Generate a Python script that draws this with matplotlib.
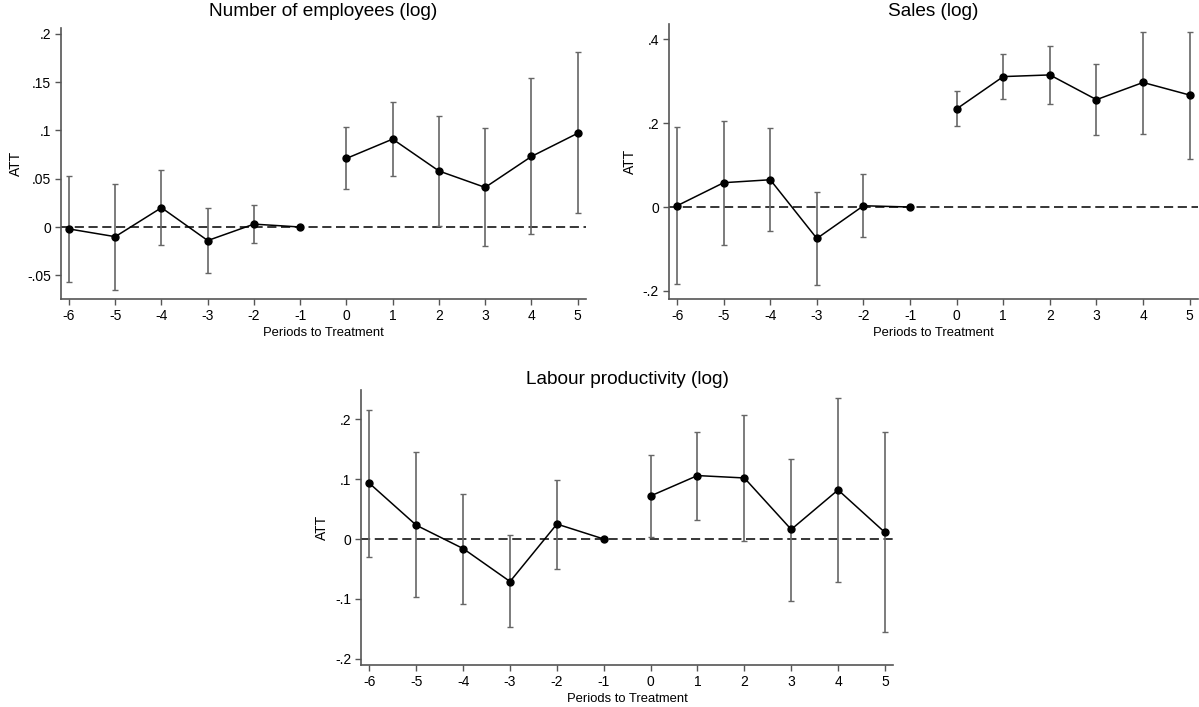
import numpy as np
import matplotlib.pyplot as plt

plt.rcParams['font.family'] = ['Liberation Sans', 'DejaVu Sans']

periods = [-6, -5, -4, -3, -2, -1, 0, 1, 2, 3, 4, 5]

# Number of employees (log)
emp_att = [-0.002, -0.010, 0.020, -0.014, 0.003, 0.0, 0.071, 0.091, 0.058, 0.041, 0.073, 0.097]
emp_lo = [-0.057, -0.065, -0.019, -0.048, -0.017, np.nan, 0.039, 0.053, 0.001, -0.020, -0.007, 0.014]
emp_hi = [0.053, 0.045, 0.059, 0.020, 0.023, np.nan, 0.104, 0.129, 0.115, 0.103, 0.154, 0.181]

# Sales (log)
sales_att = [0.003, 0.058, 0.065, -0.075, 0.003, 0.0, 0.234, 0.311, 0.315, 0.256, 0.297, 0.267]
sales_lo = [-0.183, -0.091, -0.057, -0.186, -0.071, np.nan, 0.193, 0.258, 0.245, 0.172, 0.175, 0.115]
sales_hi = [0.190, 0.204, 0.188, 0.035, 0.079, np.nan, 0.276, 0.365, 0.385, 0.340, 0.418, 0.418]

# Labour productivity (log)
lp_att = [0.093, 0.023, -0.016, -0.071, 0.025, 0.0, 0.072, 0.106, 0.102, 0.016, 0.082, 0.011]
lp_lo = [-0.030, -0.097, -0.108, -0.147, -0.050, np.nan, 0.004, 0.032, -0.004, -0.103, -0.072, -0.156]
lp_hi = [0.216, 0.145, 0.076, 0.006, 0.099, np.nan, 0.140, 0.179, 0.208, 0.134, 0.236, 0.178]

panels = [
    ("Number of employees (log)", emp_att, emp_lo, emp_hi,
     [-0.05, 0, 0.05, 0.1, 0.15, 0.2], ["-.05", "0", ".05", ".1", ".15", ".2"],
     (-0.0745, 0.206), [0.0506, 0.5771, 0.4381, 0.3833], 12, 16),
    ("Sales (log)", sales_att, sales_lo, sales_hi,
     [-0.2, 0, 0.2, 0.4], ["-.2", "0", ".2", ".4"],
     (-0.220, 0.4365), [0.5577, 0.5767, 0.4415, 0.3894], 12, 630),
    ("Labour productivity (log)", lp_att, lp_lo, lp_hi,
     [-0.2, -0.1, 0, 0.1, 0.2], ["-.2", "-.1", "0", ".1", ".2"],
     (-0.2105, 0.249), [0.3011, 0.0594, 0.4440, 0.3890], 380, 322),
]

W, H = 1199, 707
fig = plt.figure(figsize=(W / 100, H / 100), dpi=100)
x = np.array(periods)
axis_col = '#555555'

for title, att, lo, hi, yt, ytl, ylim, pos, title_y, ylab_x in panels:
    ax = fig.add_axes(pos)
    att = np.array(att)
    lo = np.array(lo)
    hi = np.array(hi)
    ax.axhline(0, color='black', linestyle=(0, (6, 3)), linewidth=1.1, zorder=1)
    ok = ~np.isnan(lo)
    ax.errorbar(x[ok], att[ok], yerr=[att[ok] - lo[ok], hi[ok] - att[ok]],
                fmt='none', ecolor='#666666', elinewidth=1.2, capsize=2.2,
                capthick=1.0, zorder=2)
    pre = x < 0
    ax.plot(x[pre], att[pre], color='black', linewidth=1.1, marker='o',
            markersize=5, zorder=3)
    ax.plot(x[~pre], att[~pre], color='black', linewidth=1.1, marker='o',
            markersize=5, zorder=3)
    ax.set_xlim(-6.18, 5.18)
    ax.set_ylim(*ylim)
    ax.set_xticks(periods)
    ax.set_xticklabels([str(p) for p in periods])
    ax.set_yticks(yt)
    ax.set_yticklabels(ytl)
    fig.text(pos[0] + pos[2] / 2, 1 - title_y / H, title, fontsize=13.7,
             ha='center', va='center')
    ax.set_xlabel("Periods to Treatment", fontsize=9.4, labelpad=3)
    fig.text(ylab_x / W, pos[1] + pos[3] / 2, "ATT", fontsize=10,
             rotation=90, ha='center', va='center')
    for s in ['top', 'right']:
        ax.spines[s].set_visible(False)
    for s in ['left', 'bottom']:
        ax.spines[s].set_color(axis_col)
        ax.spines[s].set_linewidth(1.2)
    ax.tick_params(direction='out', length=4, width=1, color=axis_col,
                   labelsize=10, pad=3)

fig.savefig('out.png', dpi=100)
